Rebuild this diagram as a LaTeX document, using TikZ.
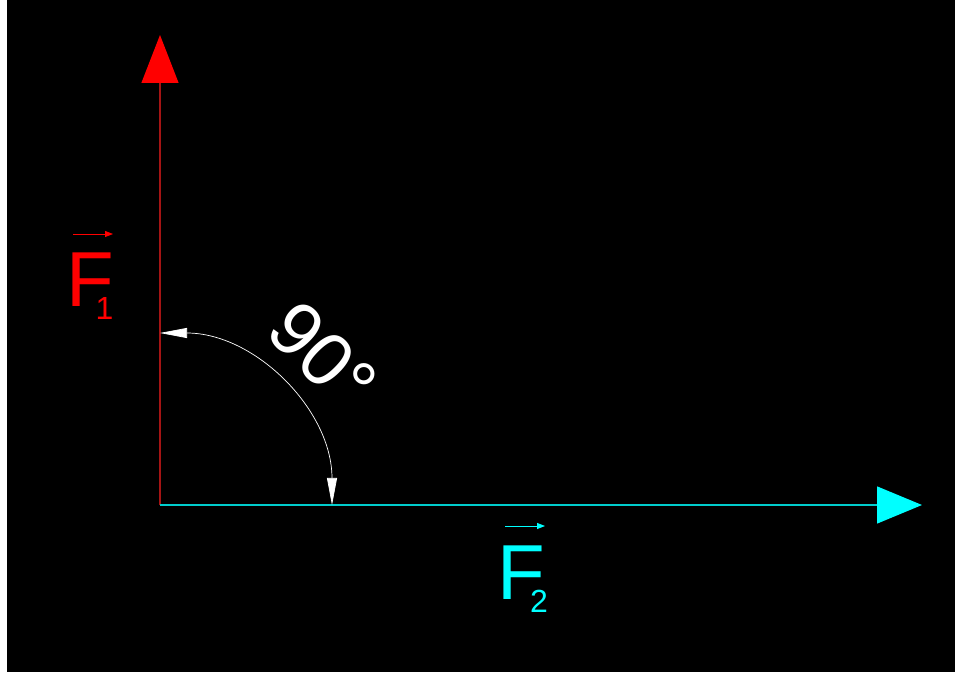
\documentclass[tikz,border=0pt]{standalone}
\usepackage{fontspec}
\setmainfont{Liberation Sans}
\usetikzlibrary{arrows.meta}
\definecolor{fred}{RGB}{255,0,0}
\definecolor{fredline}{RGB}{165,20,20}
\definecolor{fcyan}{RGB}{0,255,255}
\definecolor{fcyanline}{RGB}{0,205,205}
\begin{document}
\begin{tikzpicture}[x=1pt, y=1pt,
    fone/.style={draw=fredline, line width=1.2pt, -{Triangle[length=48pt, width=37pt, color=fred]}},
    ftwo/.style={draw=fcyanline, line width=1.4pt, -{Triangle[length=45pt, width=37pt, color=fcyan]}},
    ang/.style={draw=white, line width=0.7pt, {Triangle[length=27pt, width=10pt]}-{Triangle[length=27pt, width=10pt]}},
    big/.style={inner sep=0pt, anchor=base west, font=\fontsize{78}{78}\selectfont},
    sub/.style={inner sep=0pt, anchor=base west, font=\fontsize{32}{32}\selectfont},
    vec/.style={line width=0.8pt, -{Triangle[length=8pt, width=6pt]}}
]
% background
\fill[white] (0,0) rectangle (955,672);
\fill[black] (7,0) rectangle (955,672);

\coordinate (O) at (160,167);
\coordinate (t1) at (160,637);
\coordinate (t2) at (922,167);
\coordinate (a1) at (160,339);

\draw[fone] (O) -- (t1);
\draw[ftwo] (O) -- (t2);
\draw[ang] (a1) arc[start angle=90, end angle=0, radius=172];

\node[white, rotate=-45, font=\fontsize{76}{76}\selectfont, inner sep=0pt] (deg) at (323,316) {90°};

% F1
\node[big, text=fred] (F1) at (66.6,365) {F};
\node[sub, text=fred] (s1) at (95.5,352) {1};
\coordinate (v1a) at (73,438);
\coordinate (v1b) at (113,438);
\draw[vec, fred] (v1a) -- (v1b);

% F2
\node[big, text=fcyan] (F2) at (497.6,73) {F};
\node[sub, text=fcyan] (s2) at (530,60) {2};
\coordinate (v2a) at (505,146);
\coordinate (v2b) at (545,146);
\draw[vec, fcyan] (v2a) -- (v2b);
\end{tikzpicture}
\end{document}
